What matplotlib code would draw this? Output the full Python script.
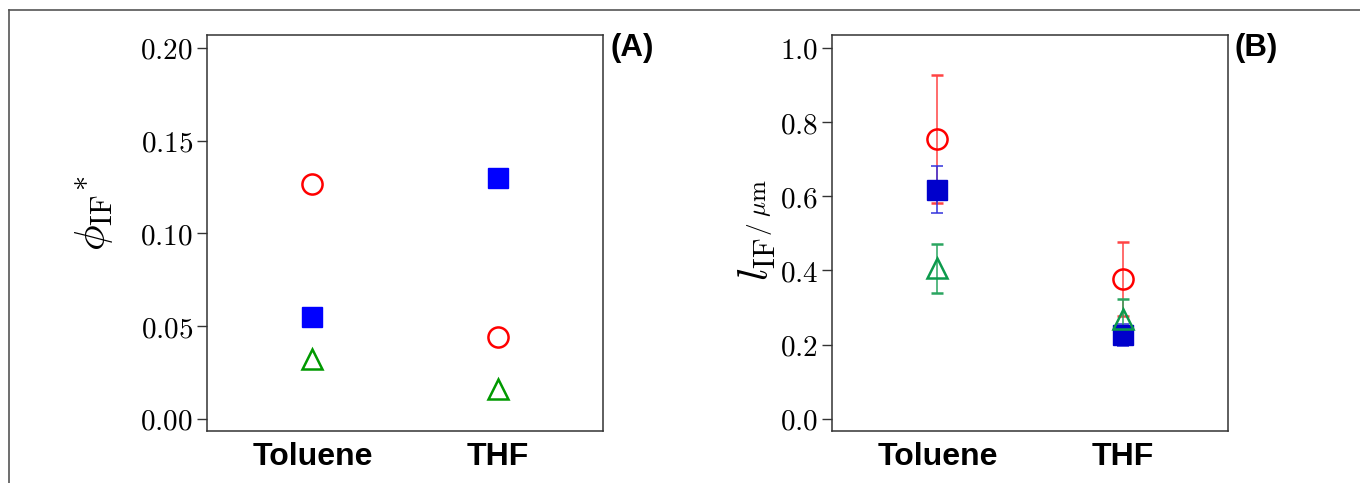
import numpy as np
import matplotlib
matplotlib.use('Agg')
import matplotlib.pyplot as plt
from matplotlib.lines import Line2D

plt.rcParams['mathtext.fontset'] = 'cm'

# data
solvents = ['Toluene', 'THF']

# (A) phi_IF*
phiA_circle = [0.1268, 0.0442]
phiA_square = [0.0550, 0.1298]
phiA_tri = [0.0321, 0.0163]

# (B) l_IF / um with error
lB_circle = [0.754, 0.377]
lB_circle_err = [0.172, 0.100]
lB_square = [0.618, 0.226]
lB_square_err = [0.063, 0.030]
lB_tri = [0.406, 0.268]
lB_tri_err = [0.066, 0.056]

W, H = 1360, 483
fig = plt.figure(figsize=(W / 100, H / 100), dpi=100)

# thin frame (top + left)
fig.add_artist(Line2D([9 / W, 9 / W], [0, 1 - 10 / H], color='#555555', lw=1.2))
fig.add_artist(Line2D([9 / W, 1], [1 - 10 / H, 1 - 10 / H], color='#555555', lw=1.2))

axA = fig.add_axes([207 / W, 1 - 431 / H, 396 / W, 396 / H])
axB = fig.add_axes([832 / W, 1 - 431 / H, 396 / W, 396 / H])

x = np.arange(1, len(solvents) + 1)
ms = 15

# panel A
axA.plot(x, phiA_circle, 'o', ms=14.5, mfc='none', mec='#ff0000', mew=1.8, ls='none')
axA.plot(x, phiA_square, 's', ms=ms, color='#0000ff', ls='none')
axA.plot(x, phiA_tri, '^', ms=14.5, mfc='none', mec='#009900', mew=1.8, ls='none')
axA.set_ylim(-0.0066, 0.207)
axA.set_yticks([0, 0.05, 0.10, 0.15, 0.20])
axA.set_yticklabels([r'$%.2f$' % v for v in [0, 0.05, 0.10, 0.15, 0.20]])

# panel B
eb = dict(elinewidth=1.1, capsize=4, capthick=1.1, ls='none')
axB.errorbar(x, lB_circle, yerr=lB_circle_err, fmt='o', ms=14.5, mfc='none',
             mec='#ff0000', mew=1.8, ecolor='#ff4444', **eb)
axB.errorbar(x, lB_square, yerr=lB_square_err, fmt='s', ms=ms, color='#0000cc',
             ecolor='#3333dd', **eb)
axB.errorbar(x, lB_tri, yerr=lB_tri_err, fmt='^', ms=14.5, mfc='none',
             mec='#0c9a4c', mew=1.8, ecolor='#2aa560', **eb)
axB.set_ylim(-0.033, 1.035)
axB.set_yticks([0, 0.2, 0.4, 0.6, 0.8, 1.0])
axB.set_yticklabels([r'$%.1f$' % v for v in [0, 0.2, 0.4, 0.6, 0.8, 1.0]])

for ax in (axA, axB):
    ax.set_xlim(0.43, 2.57)
    ax.set_xticks(x)
    ax.set_xticklabels(solvents, fontfamily='Liberation Sans', fontweight='bold', fontsize=23)
    ax.tick_params(axis='x', length=0, pad=8)
    ax.tick_params(axis='y', length=7, width=1, pad=3, labelsize=21, color='#333333')
    for s in ax.spines.values():
        s.set_color('#333333')
        s.set_linewidth(1.1)

axA.set_ylabel(r'$\phi_{\mathrm{IF}}{}^{*}$', fontsize=31)
axA.yaxis.set_label_coords(-0.23, 0.55)

# label B built from two pieces
fig.text(757 / W, 1 - 281 / H, r'$l_{\mathrm{IF}}$', rotation=90, fontsize=31,
         ha='center', va='bottom')
fig.text(759 / W, 1 - 236 / H, r'$/\ \mathrm{\mu m}$', rotation=90, fontsize=18,
         ha='center', va='bottom')

fig.text(610 / W, 1 - 48 / H, '(A)', fontfamily='Liberation Sans', fontweight='bold',
         fontsize=22.5, va='center', ha='left')
fig.text(1235 / W, 1 - 48 / H, '(B)', fontfamily='Liberation Sans', fontweight='bold',
         fontsize=22.5, va='center', ha='left')

plt.savefig('out.png', dpi=100)
